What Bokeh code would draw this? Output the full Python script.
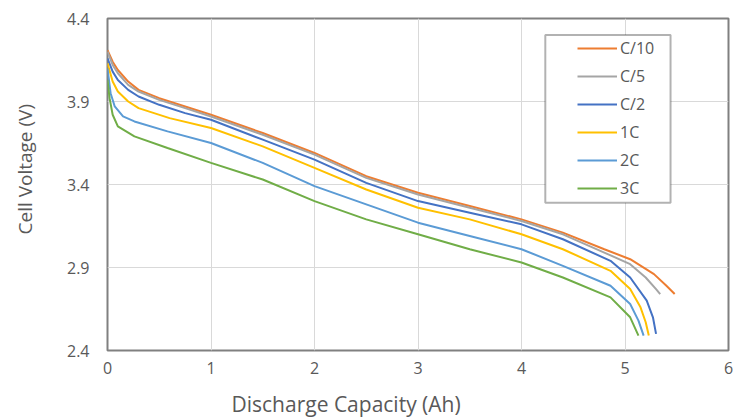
from bokeh.plotting import figure
from bokeh.models import FixedTicker, Legend, LegendItem, BoxAnnotation, Title
from bokeh.embed import file_html
from bokeh.resources import INLINE

# ---- data ----
x_ticks = [0, 1, 2, 3, 4, 5, 6]
y_ticks = [2.4, 2.9, 3.4, 3.9, 4.4]
series_names = ["C/10", "C/5", "C/2", "1C", "2C", "3C"]
colors = ["#ED7D31", "#A5A5A5", "#4472C4", "#FFC000", "#5B9BD5", "#70AD47"]
x_title = "Discharge Capacity (Ah)"
y_title = "Cell Voltage (V)"

cap_c10 = [0, 0.05, 0.1, 0.2, 0.3, 0.5, 0.75, 1.0, 1.5, 2.0, 2.5, 3.0, 3.5, 4.0, 4.4, 4.8, 5.05, 5.28, 5.4, 5.48]
v_c10 = [4.21, 4.14, 4.09, 4.02, 3.97, 3.92, 3.87, 3.82, 3.71, 3.59, 3.45, 3.35, 3.27, 3.19, 3.11, 3.01, 2.95, 2.86, 2.79, 2.74]

cap_c5 = [0, 0.05, 0.1, 0.2, 0.3, 0.5, 0.75, 1.0, 1.5, 2.0, 2.5, 3.0, 3.5, 4.0, 4.4, 4.8, 5.05, 5.2, 5.3, 5.34]
v_c5 = [4.20, 4.12, 4.07, 4.00, 3.96, 3.91, 3.86, 3.81, 3.70, 3.58, 3.44, 3.34, 3.26, 3.18, 3.10, 2.99, 2.92, 2.84, 2.77, 2.74]

cap_c2 = [0, 0.05, 0.1, 0.2, 0.3, 0.5, 0.75, 1.0, 1.5, 2.0, 2.5, 3.0, 3.5, 4.0, 4.4, 4.86, 5.05, 5.21, 5.27, 5.30]
v_c2 = [4.16, 4.08, 4.03, 3.97, 3.93, 3.88, 3.83, 3.79, 3.67, 3.55, 3.41, 3.30, 3.23, 3.16, 3.07, 2.94, 2.84, 2.70, 2.60, 2.50]

cap_1c = [0, 0.05, 0.1, 0.2, 0.3, 0.6, 1.0, 1.5, 2.0, 2.5, 3.0, 3.5, 4.0, 4.4, 4.86, 5.05, 5.15, 5.2, 5.23]
v_1c = [4.13, 4.02, 3.96, 3.90, 3.86, 3.80, 3.74, 3.63, 3.50, 3.37, 3.26, 3.19, 3.10, 3.01, 2.88, 2.77, 2.66, 2.57, 2.49]

cap_2c = [0, 0.03, 0.07, 0.15, 0.26, 0.58, 1.0, 1.5, 2.0, 2.5, 3.0, 3.5, 4.0, 4.4, 4.86, 5.05, 5.13, 5.18]
v_2c = [4.10, 3.95, 3.87, 3.81, 3.78, 3.72, 3.65, 3.53, 3.39, 3.28, 3.17, 3.09, 3.01, 2.91, 2.79, 2.68, 2.58, 2.49]

cap_3c = [0, 0.02, 0.05, 0.1, 0.26, 0.58, 1.0, 1.5, 2.0, 2.5, 3.0, 3.5, 4.0, 4.4, 4.86, 5.05, 5.13]
v_3c = [4.03, 3.92, 3.82, 3.75, 3.69, 3.62, 3.53, 3.43, 3.30, 3.19, 3.10, 3.01, 2.93, 2.84, 2.72, 2.60, 2.49]

caps = [cap_c10, cap_c5, cap_c2, cap_1c, cap_2c, cap_3c]
volts = [v_c10, v_c5, v_c2, v_1c, v_2c, v_3c]

FONT = "Open Sans"
TXT = "#595959"

p = figure(width=734, height=420, x_range=(0, 6), y_range=(2.4, 4.4),
           output_backend="svg", toolbar_location=None,
           min_border_left=107, min_border_right=6, min_border_top=18, min_border_bottom=70)

p.xaxis.ticker = FixedTicker(ticks=x_ticks)
p.yaxis.ticker = FixedTicker(ticks=y_ticks)
p.axis.axis_line_color = None
p.axis.major_tick_line_color = None
p.axis.minor_tick_line_color = None
p.axis.major_tick_out = 0
p.axis.major_tick_in = 0
p.axis.major_label_text_color = TXT
p.axis.major_label_text_font = FONT
p.axis.major_label_text_font_size = "16px"
p.xaxis.major_label_standoff = 11
p.yaxis.major_label_standoff = 18
# blank, tiny axis label used only as a spacer below the tick labels
p.xaxis.axis_label = " "
p.xaxis.axis_label_text_font_size = "4px"
p.xaxis.axis_label_standoff = 1
p.grid.grid_line_color = "#d9d9d9"
p.grid.grid_line_width = 1
p.outline_line_color = "#808080"
p.outline_line_width = 2
p.background_fill_color = "white"

renderers = []
for name, c, xs, ys in zip(series_names, colors, caps, volts):
    r = p.line(xs, ys, line_color=c, line_width=2)
    renderers.append((name, r))

box = BoxAnnotation(left=4.23, right=5.44, top=4.30, bottom=3.29,
                    fill_color="white", fill_alpha=1.0, line_color="black", line_width=2)
p.add_layout(box)

legend = Legend(items=[LegendItem(label=n, renderers=[r]) for n, r in renderers],
                location=(470, 151), padding=0, margin=0, spacing=6,
                glyph_width=40, glyph_height=22, label_height=22, label_standoff=3,
                label_text_font=FONT, label_text_font_size="16px", label_text_color=TXT,
                border_line_color=None, background_fill_alpha=0)
p.add_layout(legend)

xt = Title(text=x_title, align="left", offset=124, standoff=4,
           text_font=FONT, text_font_size="21px", text_font_style="normal", text_color=TXT)
p.add_layout(xt, "below")
# trailing blank line keeps the rotated title away from the tick labels
yt = Title(text=y_title + "\n ", align="left", offset=116, standoff=0,
           text_font=FONT, text_font_size="19px", text_font_style="normal", text_color=TXT)
p.add_layout(yt, "left")

open("out.html", "w").write(file_html(p, INLINE))
